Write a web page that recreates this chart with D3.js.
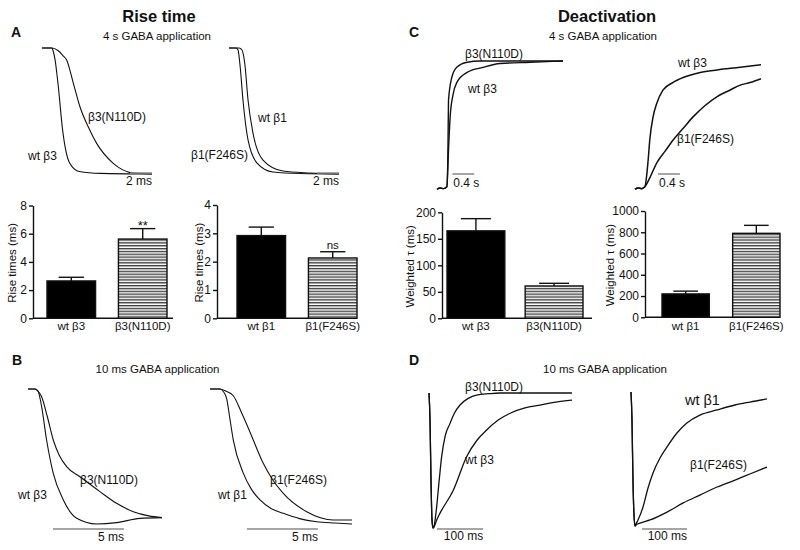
<!DOCTYPE html>
<html><head><meta charset="utf-8">
<script src="https://cdn.jsdelivr.net/npm/d3@7"></script>
<style>
body{margin:0;background:#fff}
svg{font-family:"Liberation Sans",Arial,sans-serif;background:#fff}
</style></head><body>
<svg id="fig" width="800" height="550"></svg>
<script>
// ---------- DATA ----------
// Panel A traces (4 s application, rise phase): [time ms, normalized amplitude]
const riseA_wtB3 = [[0,1],[0.9,1],[1.0,0.98],[1.2,0.9],[1.45,0.72],[1.9,0.33],[2.5,0.09],[3.4,0.02],[5.3,0.005],[10,0]];
const riseA_N110D = [[0,1],[0.9,1],[1.45,0.98],[1.9,0.94],[2.24,0.905],[2.85,0.72],[3.45,0.534],[4.2,0.375],[4.97,0.243],[6.45,0.087],[8.3,0.008],[10,0]];
const riseA_F246S = [[0,1],[0.64,1],[0.82,0.984],[1.0,0.865],[1.27,0.587],[1.73,0.27],[2.55,0.087],[4,0.016],[6.45,0.004],[10,0]];
const riseA_wtB1 = [[0,1],[0.91,1],[1.18,0.984],[1.45,0.865],[1.73,0.587],[2.18,0.325],[3.09,0.111],[4.91,0.024],[7.36,0.008],[10,0]];
// Panel B traces (10 ms application)
const riseB_wtB3 = [[0,1],[0.49,1],[0.7,0.985],[0.96,0.87],[1.31,0.622],[1.78,0.375],[2.49,0.178],[3.43,0.042],[4.84,0],[6.24,0.01],[7.89,0.042],[9.44,0.047]];
const riseB_N110D = [[0,1],[0.49,1],[0.7,0.985],[0.96,0.943],[1.35,0.8],[1.78,0.622],[2.2,0.51],[2.72,0.425],[3.66,0.35],[5.07,0.24],[6.24,0.153],[7.42,0.091],[8.5,0.06],[9.44,0.047]];
const riseB_wtB1 = [[0,1],[0.7,1],[0.95,0.98],[1.17,0.93],[1.4,0.78],[1.64,0.622],[2.35,0.375],[2.9,0.26],[3.52,0.178],[4.3,0.115],[5.16,0.079],[6.3,0.04],[7.51,0.017],[8.8,0.007],[10,0]];
const riseB_F246S = [[0,1],[0.7,1],[1.1,0.985],[1.64,0.95],[2.2,0.83],[2.82,0.68],[3.75,0.45],[4.4,0.33],[5.16,0.227],[6.81,0.091],[8.69,0.03],[10,0.03]];
// Panel C traces (4 s application, deactivation): [time s, normalized recovery]
const deactC_N110D = [[0,-0.01],[0.06,0],[0.12,-0.005],[0.18,0.01],[0.2,0.3],[0.21,0.69],[0.27,0.87],[0.36,0.95],[0.55,0.99],[0.78,1],[2.3,1]];
const deactC_wtB3L = [[0,-0.01],[0.06,0],[0.12,-0.005],[0.18,0.01],[0.21,0.3],[0.24,0.56],[0.29,0.73],[0.36,0.83],[0.55,0.91],[0.84,0.95],[1.15,0.98],[1.7,0.99],[2.3,1.0]];
const deactC_wtB3R = [[0,-0.01],[0.06,0],[0.12,-0.005],[0.18,0.01],[0.24,0.22],[0.27,0.38],[0.33,0.56],[0.4,0.67],[0.51,0.77],[0.69,0.83],[0.88,0.87],[1.19,0.91],[1.5,0.93],[1.92,0.95],[2.3,0.97]];
const deactC_F246S = [[0,-0.01],[0.06,0],[0.12,-0.005],[0.18,0.01],[0.27,0.08],[0.4,0.2],[0.55,0.29],[0.7,0.38],[0.88,0.47],[1.06,0.56],[1.28,0.65],[1.5,0.72],[1.73,0.77],[1.92,0.81],[2.1,0.83],[2.3,0.86]];
// Panel D traces (10 ms application): [time ms, fraction of peak current]
const deactD_N110D = [[0,0],[2.2,0.2],[4.3,0.64],[6.5,0.94],[8.7,1],[11,0.985],[16.7,0.84],[21.7,0.66],[27.5,0.47],[35,0.32],[45.6,0.225],[55,0.15],[67.2,0.089],[85,0.04],[103,0.015],[130,0.005],[154,0],[310,0]];
const deactD_wtB3 = [[0,0],[2.2,0.2],[4.3,0.64],[6.5,0.94],[8.7,1],[12,0.985],[16.7,0.94],[23.9,0.89],[52.7,0.72],[81.8,0.47],[104,0.35],[125,0.274],[150,0.2],[176,0.15],[208,0.111],[241,0.089],[275,0.067],[310,0.052]];
const deactD_wtB1 = [[0,0],[2.2,0.21],[4.4,0.66],[6.7,0.92],[8.9,1],[11,0.985],[15.6,0.955],[26.7,0.858],[37.8,0.716],[48.9,0.604],[64.4,0.493],[80,0.41],[102,0.306],[124,0.231],[153,0.172],[191,0.134],[231,0.097],[264,0.075],[302,0.052]];
const deactD_F246S = [[0,0],[2.2,0.21],[4.4,0.66],[6.7,0.92],[8.9,1],[12,0.99],[20,0.978],[42.2,0.955],[80,0.896],[116,0.828],[153,0.769],[191,0.709],[231,0.657],[264,0.612],[302,0.56]];

// Bar charts
const riseCatsB3 = ["wt β3","β3(N110D)"];
const riseMeanB3 = [2.65, 5.62];
const riseSemB3 = [0.26, 0.74];
const riseTicksB3 = [0,2,4,6,8];
const riseCatsB1 = ["wt β1","β1(F246S)"];
const riseMeanB1 = [2.92, 2.13];
const riseSemB1 = [0.3, 0.22];
const riseTicksB1 = [0,1,2,3,4];
const deactCatsB3 = ["wt β3","β3(N110D)"];
const deactMeanB3 = [165, 61];
const deactSemB3 = [23, 5];
const deactTicksB3 = [0,50,100,150,200];
const deactCatsB1 = ["wt β1","β1(F246S)"];
const deactMeanB1 = [220, 790];
const deactSemB1 = [26, 75];
const deactTicksB1 = [0,200,400,600,800,1000];

// ---------- DRAW ----------
const svg = d3.select('#fig');
svg.append('rect').attr('width',800).attr('height',550).attr('fill','#fff');
const defs = svg.append('defs');
const pat = defs.append('pattern').attr('id','stripes').attr('patternUnits','userSpaceOnUse')
  .attr('width',4).attr('height',2.85);
pat.append('rect').attr('width',4).attr('height',2.85).attr('fill','#fff');
pat.append('rect').attr('width',4).attr('height',1.35).attr('fill','#3a3a3a');

function text(x,y,s,opt={}){
  const t = svg.append('text').attr('x',x).attr('y',y).text(s)
    .attr('font-size',opt.size||12).attr('fill','#111')
    .attr('text-anchor',opt.anchor||'start');
  if(opt.bold) t.attr('font-weight','bold');
  if(opt.family) t.attr('font-family',opt.family);
  return t;
}

// Titles
text(159,22,'Rise time',{size:16.5,bold:true,anchor:'middle'});
text(607,22,'Deactivation',{size:16.5,bold:true,anchor:'middle'});
text(11,36.5,'A',{size:14,bold:true});
text(409,36.5,'C',{size:14,bold:true});
text(12,365,'B',{size:14,bold:true});
text(409,365,'D',{size:14,bold:true});
text(157,40,'4 s GABA application',{size:11.5,anchor:'middle'});
text(603,40,'4 s GABA application',{size:11.5,anchor:'middle'});
text(157.5,373,'10 ms GABA application',{size:11.5,anchor:'middle'});
text(605,373,'10 ms GABA application',{size:11.5,anchor:'middle'});

function tracePanel(cfg){
  const xs = d3.scaleLinear().domain(cfg.xDomain).range(cfg.xRange);
  const ys = d3.scaleLinear().domain([0,1]).range(cfg.yRange);
  const line = d3.line().x(d=>xs(d[0])).y(d=>ys(d[1])).curve(d3.curveMonotoneX);
  cfg.series.forEach(s=>{
    svg.append('path').datum(s).attr('d',line).attr('fill','none')
      .attr('stroke','#111').attr('stroke-width',cfg.sw).attr('stroke-linejoin','round');
  });
  const x0 = xs(cfg.sb[0]), x1 = xs(cfg.sb[0]+cfg.sb[1]);
  svg.append('line').attr('x1',x0).attr('x2',x1).attr('y1',cfg.sbY).attr('y2',cfg.sbY)
    .attr('stroke','#888').attr('stroke-width',1.5);
  if(cfg.sbAnchor==='end') text(x1,cfg.sbY+cfg.sbDy,cfg.sbLabel,{size:12,anchor:'end'});
  else text(x0+1,cfg.sbY+cfg.sbDy,cfg.sbLabel,{size:12});
}

// Panel A
tracePanel({xDomain:[0,10],xRange:[42,152],yRange:[174,48],series:[riseA_wtB3,riseA_N110D],sw:1.1,
  sb:[8,2],sbY:173,sbDy:12,sbLabel:'2 ms',sbAnchor:'end'});
tracePanel({xDomain:[0,10],xRange:[229,339],yRange:[174,48],series:[riseA_F246S,riseA_wtB1],sw:1.1,
  sb:[8,2],sbY:173,sbDy:12,sbLabel:'2 ms',sbAnchor:'end'});
text(88,121,'β3(N110D)');
text(28,160,'wt β3');
text(258,122,'wt β1');
text(191,159,'β1(F246S)');

// Panel C
tracePanel({xDomain:[0,2.3],xRange:[437,563],yRange:[188,61],series:[deactC_N110D,deactC_wtB3L],sw:1.4,
  sb:[0.28,0.4],sbY:174,sbDy:13,sbLabel:'0.4 s'});
tracePanel({xDomain:[0,2.3],xRange:[635,761],yRange:[188,61],series:[deactC_wtB3R,deactC_F246S],sw:1.5,
  sb:[0.42,0.4],sbY:174,sbDy:13,sbLabel:'0.4 s'});
text(465,58,'β3(N110D)');
text(468,93,'wt β3');
text(678,67,'wt β3');
text(677,143,'β1(F246S)');

// Panel B
tracePanel({xDomain:[0,9.44],xRange:[28,162],yRange:[524,389],series:[riseB_wtB3,riseB_N110D],sw:1.1,
  sb:[1.76,5],sbY:529,sbDy:11.5,sbLabel:'5 ms',sbAnchor:'end'});
tracePanel({xDomain:[0,10],xRange:[210,352],yRange:[524,389],series:[riseB_wtB1,riseB_F246S],sw:1.1,
  sb:[2.6,5],sbY:529,sbDy:11.5,sbLabel:'5 ms',sbAnchor:'end'});
text(80,484,'β3(N110D)');
text(18,499,'wt β3');
text(270,484,'β1(F246S)');
text(218,499,'wt β1');

// Panel D
tracePanel({xDomain:[0,310],xRange:[429,572],yRange:[393,528],series:[deactD_N110D,deactD_wtB3],sw:1.3,
  sb:[17.4,100],sbY:529,sbDy:10.5,sbLabel:'100 ms',sbAnchor:'end'});
tracePanel({xDomain:[0,302],xRange:[631,767],yRange:[392,526],series:[deactD_wtB1,deactD_F246S],sw:1.3,
  sb:[24.4,100],sbY:529,sbDy:10.5,sbLabel:'100 ms',sbAnchor:'end'});
text(465,391,'β3(N110D)');
text(465,464,'wt β3');
text(685,405,'wt β1',{size:14.5});
text(690,469,'β1(F246S)');

function barPanel(cfg){
  const x = d3.scaleBand().domain(cfg.cats).range(cfg.band).paddingInner(cfg.pad).paddingOuter(0);
  const y = d3.scaleLinear().domain([0,cfg.ticks[cfg.ticks.length-1]]).range(cfg.yRange);
  const ax = svg.append('g').attr('transform',`translate(${cfg.axisX},0)`)
    .call(d3.axisLeft(y).tickValues(cfg.ticks).tickFormat(d3.format('d')).tickSize(4).tickSizeOuter(0).tickPadding(2));
  ax.selectAll('path,line').attr('stroke','#111').attr('stroke-width',1.4);
  ax.selectAll('text').attr('font-size',12).attr('fill','#111').attr('font-family','"Liberation Sans",Arial,sans-serif');
  svg.append('line').attr('x1',cfg.axisX).attr('x2',cfg.xEnd).attr('y1',y(0)).attr('y2',y(0))
    .attr('stroke','#111').attr('stroke-width',1.4);
  cfg.cats.forEach((c,i)=>{
    const v = cfg.mean[i], e = cfg.sem[i], bx = x(c), bw = x.bandwidth(), cx = bx+bw/2;
    svg.append('line').attr('x1',cx).attr('x2',cx).attr('y1',y(v)).attr('y2',y(v+e))
      .attr('stroke','#111').attr('stroke-width',1.4);
    svg.append('line').attr('x1',cx-bw*0.26).attr('x2',cx+bw*0.26).attr('y1',y(v+e)).attr('y2',y(v+e))
      .attr('stroke','#111').attr('stroke-width',1.4);
    svg.append('rect').attr('x',bx).attr('y',y(v)).attr('width',bw).attr('height',y(0)-y(v))
      .attr('fill', i===0 ? '#000' : 'url(#stripes)').attr('stroke','#111').attr('stroke-width',1.4);
    text(cx,330,c,{size:11.5,anchor:'middle'});
  });
  const my = (cfg.yRange[0]+cfg.yRange[1])/2;
  svg.append('text').attr('transform',`translate(${cfg.labX},${my+1}) rotate(-90)`)
    .attr('text-anchor','middle').attr('font-size',11.5).attr('fill','#111').text(cfg.ylabel);
  return {x,y};
}

const pA1 = barPanel({cats:riseCatsB3,mean:riseMeanB3,sem:riseSemB3,ticks:riseTicksB3,band:[47,167],pad:0.32,
  yRange:[318.3,205.5],axisX:33,xEnd:173,labX:16,ylabel:'Rise times (ms)'});
const pA2 = barPanel({cats:riseCatsB1,mean:riseMeanB1,sem:riseSemB1,ticks:riseTicksB1,band:[237,357],pad:0.32,
  yRange:[318.3,205],axisX:217,xEnd:357,labX:203,ylabel:'Rise times (ms)'});
const pC1 = barPanel({cats:deactCatsB3,mean:deactMeanB3,sem:deactSemB3,ticks:deactTicksB3,band:[447,583],pad:0.26,
  yRange:[318.3,212.3],axisX:442,xEnd:592,labX:414,ylabel:'Weighted τ (ms)'});
const pC2 = barPanel({cats:deactCatsB1,mean:deactMeanB1,sem:deactSemB1,ticks:deactTicksB1,band:[662,780],pad:0.33,
  yRange:[317.3,211],axisX:645,xEnd:780,labX:614,ylabel:'Weighted τ (ms)'});

// significance marks
const sA1 = pA1.x(riseCatsB3[1]) + pA1.x.bandwidth()/2;
text(sA1,229.5,'**',{size:13,anchor:'middle'});
const sA2 = pA2.x(riseCatsB1[1]) + pA2.x.bandwidth()/2;
text(sA2,248.5,'ns',{size:11.5,anchor:'middle'});
</script>
</body></html>
